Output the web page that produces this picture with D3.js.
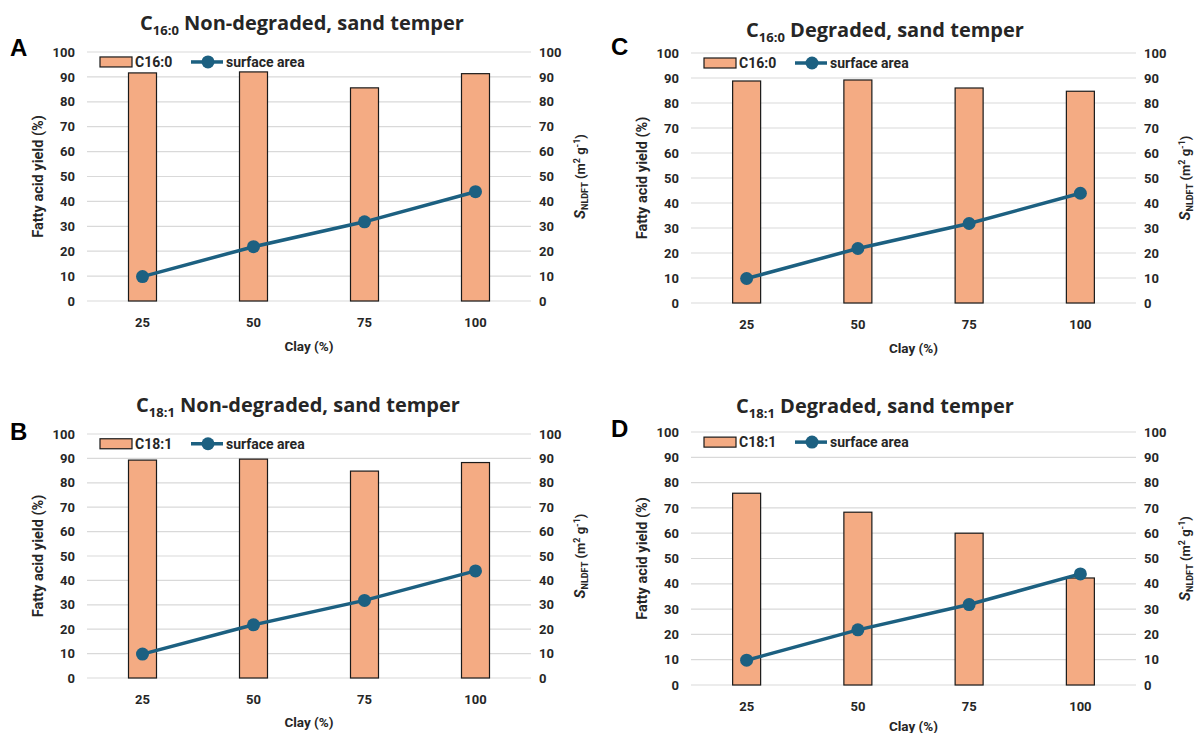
<!DOCTYPE html>
<html>
<head>
<meta charset="utf-8">
<script src="https://cdn.jsdelivr.net/npm/d3@7"></script>
<style>
  body { margin: 0; background: #fff; }
  svg text { font-family: Roboto, "Noto Sans", sans-serif; fill: #262626; }
</style>
</head>
<body>
<div id="chart"></div>
<script>
// data
var clay = ["25", "50", "75", "100"],
    surfaceArea = [9.8, 21.8, 31.8, 43.9],
    c16NonDegraded = [91.6, 92.0, 85.6, 91.3],
    c16Degraded = [88.8, 89.2, 86.0, 84.7],
    c18NonDegraded = [89.3, 89.7, 84.8, 88.3],
    c18Degraded = [75.8, 68.3, 60.0, 42.3],
    yTicks = [0, 10, 20, 30, 40, 50, 60, 70, 80, 90, 100];

var barColor = "#f4ab83",
    lineColor = "#1c6081",
    gridColor = "#d9d9d9";

var panels = [
  {letter: "A", sub: "16:0", rest: " Non-degraded, sand temper", legend: "C16:0", values: c16NonDegraded,
   left: 87, right: 531, top: 52, bottom: 301, titleX: 302, titleY: 30, letterX: 10, letterY: 56, clayY: 50},
  {letter: "C", sub: "16:0", rest: " Degraded, sand temper", legend: "C16:0", values: c16Degraded,
   left: 691, right: 1136, top: 53, bottom: 303, titleX: 885, titleY: 37, letterX: 611, letterY: 55, clayY: 50},
  {letter: "B", sub: "18:1", rest: " Non-degraded, sand temper", legend: "C18:1", values: c18NonDegraded,
   left: 87, right: 531, top: 434, bottom: 678, titleX: 298, titleY: 412, letterX: 10, letterY: 440, clayY: 49},
  {letter: "D", sub: "18:1", rest: " Degraded, sand temper", legend: "C18:1", values: c18Degraded,
   left: 691, right: 1136, top: 432, bottom: 685, titleX: 875, titleY: 413, letterX: 611, letterY: 437, clayY: 46}
];

var svg = d3.select("#chart").append("svg")
    .attr("width", 1197)
    .attr("height", 733);

panels.forEach(drawPanel);

function drawPanel(p) {
  var g = svg.append("g");

  var x = d3.scaleBand()
      .domain(clay)
      .range([p.left, p.right]);

  var y = d3.scaleLinear()
      .domain([0, 100])
      .range([p.bottom, p.top]);

  var yRight = d3.scaleLinear()
      .domain([0, 100])
      .range([p.bottom, p.top]);

  // gridlines
  g.append("g").selectAll("line")
      .data(yTicks)
    .enter().append("line")
      .attr("x1", p.left)
      .attr("x2", p.right)
      .attr("y1", function(d) {return y(d)})
      .attr("y2", function(d) {return y(d)})
      .attr("stroke", gridColor)
      .attr("stroke-width", 1.2);

  // left axis
  var leftAxis = g.append("g")
      .attr("transform", "translate(" + (p.left - 12) + ",0)")
      .call(d3.axisLeft(y).tickValues(yTicks).tickSize(0).tickPadding(0));
  leftAxis.select(".domain").remove();
  leftAxis.selectAll("text").attr("font-size", 13).attr("font-weight", "bold");

  // right axis
  var rightAxis = g.append("g")
      .attr("transform", "translate(" + (p.right + 8) + ",0)")
      .call(d3.axisRight(yRight).tickValues(yTicks).tickSize(0).tickPadding(0));
  rightAxis.select(".domain").remove();
  rightAxis.selectAll("text").attr("font-size", 13).attr("font-weight", "bold");

  // bottom axis labels
  var bottomAxis = g.append("g")
      .attr("transform", "translate(0," + p.bottom + ")")
      .call(d3.axisBottom(x).tickSize(0).tickPadding(17));
  bottomAxis.select(".domain").remove();
  bottomAxis.selectAll("text").attr("font-size", 13).attr("font-weight", "bold");

  // bars
  g.append("g").selectAll("rect")
      .data(p.values)
    .enter().append("rect")
      .attr("x", function(d, i) {return x(clay[i]) + x.bandwidth() / 2 - 14})
      .attr("width", 28)
      .attr("y", function(d) {return y(d)})
      .attr("height", function(d) {return y(0) - y(d)})
      .attr("fill", barColor)
      .attr("stroke", "#1a1a1a")
      .attr("stroke-width", 1.2);

  // surface area line
  var line = d3.line()
      .x(function(d, i) {return x(clay[i]) + x.bandwidth() / 2})
      .y(function(d) {return yRight(d)});

  g.append("path")
      .datum(surfaceArea)
      .attr("d", line)
      .attr("fill", "none")
      .attr("stroke", lineColor)
      .attr("stroke-width", 3.5);

  g.append("g").selectAll("circle")
      .data(surfaceArea)
    .enter().append("circle")
      .attr("cx", function(d, i) {return x(clay[i]) + x.bandwidth() / 2})
      .attr("cy", function(d) {return yRight(d)})
      .attr("r", 6.5)
      .attr("fill", lineColor);

  // legend
  var ly = y(96);
  var lg = g.append("g").attr("transform", "translate(" + (p.left + 13) + "," + ly + ")");
  lg.append("rect")
      .attr("x", 0).attr("y", -5)
      .attr("width", 32).attr("height", 10)
      .attr("fill", barColor)
      .attr("stroke", "#1a1a1a")
      .attr("stroke-width", 1.2);
  lg.append("text")
      .attr("x", 35).attr("y", 5)
      .attr("font-size", 14).attr("font-weight", "bold")
      .text(p.legend);
  lg.append("line")
      .attr("x1", 91).attr("x2", 123)
      .attr("stroke", lineColor).attr("stroke-width", 3.5);
  lg.append("circle")
      .attr("cx", 108).attr("r", 6.5).attr("fill", lineColor);
  lg.append("text")
      .attr("x", 126).attr("y", 5)
      .attr("font-size", 14).attr("font-weight", "bold")
      .text("surface area");

  // axis titles
  var midY = (p.top + p.bottom) / 2;
  g.append("text")
      .attr("transform", "translate(" + (p.left - 44) + "," + midY + ") rotate(-90)")
      .attr("text-anchor", "middle")
      .attr("font-size", 14.5).attr("font-weight", "bold")
      .text("Fatty acid yield (%)");

  var rt = g.append("text")
      .attr("transform", "translate(" + (p.right + 54) + "," + midY + ") rotate(-90)")
      .attr("text-anchor", "middle")
      .attr("font-size", 13).attr("font-weight", "bold");
  rt.append("tspan").attr("font-style", "italic").attr("font-size", 15).text("S");
  rt.append("tspan").attr("font-size", 9).attr("dy", 3).text("NLDFT");
  rt.append("tspan").attr("dy", -3).text(" (m");
  rt.append("tspan").attr("font-size", 9).attr("dy", -5).text("2");
  rt.append("tspan").attr("dy", 5).text(" g");
  rt.append("tspan").attr("font-size", 9).attr("dy", -5).text("-1");
  rt.append("tspan").attr("dy", 5).text(")");

  g.append("text")
      .attr("x", (p.left + p.right) / 2)
      .attr("y", p.bottom + p.clayY)
      .attr("text-anchor", "middle")
      .attr("font-size", 13.5).attr("font-weight", "bold")
      .text("Clay (%)");

  // chart title
  var t = g.append("text")
      .attr("x", p.titleX)
      .attr("y", p.titleY)
      .attr("text-anchor", "middle")
      .attr("font-size", 20).attr("font-weight", "bold")
      .style("font-family", "'Open Sans', sans-serif");
  t.append("tspan").text("C");
  t.append("tspan").attr("font-size", 13).attr("dy", 5).text(p.sub);
  t.append("tspan").attr("dy", -5).text(p.rest);

  // panel letter
  g.append("text")
      .attr("x", p.letterX)
      .attr("y", p.letterY)
      .attr("font-size", 24).attr("font-weight", "bold")
      .style("font-family", "Arial, 'Liberation Sans', sans-serif")
      .style("fill", "#000")
      .text(p.letter);
}
</script>
</body>
</html>
